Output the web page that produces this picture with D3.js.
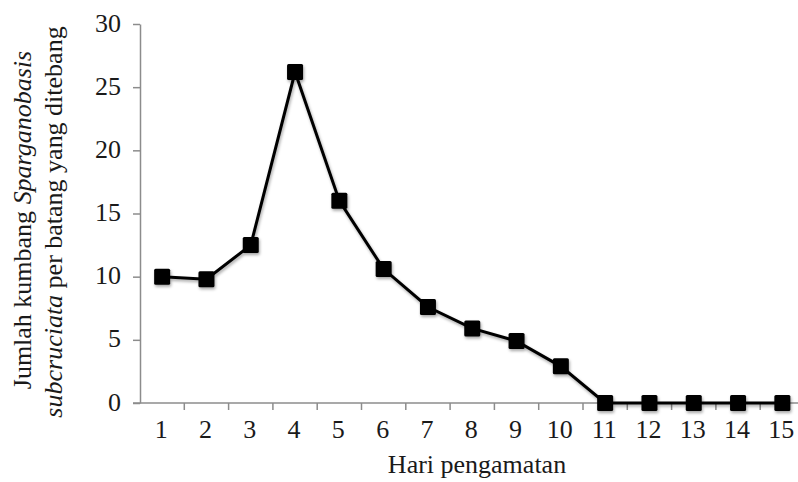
<!DOCTYPE html>
<html>
<head>
<meta charset="utf-8">
<script src="https://cdn.jsdelivr.net/npm/d3@7"></script>
<style>
  body { margin: 0; background: #fff; }
  text { font-family: "Liberation Serif", "Times New Roman", serif; fill: #1a1a1a; }
</style>
</head>
<body>
<div id="chart"></div>
<script>
// data
var days = ["1","2","3","4","5","6","7","8","9","10","11","12","13","14","15"];
var beetles = [10.0, 9.8, 12.5, 26.2, 16.0, 10.6, 7.6, 5.9, 4.9, 2.9, 0, 0, 0, 0, 0];
var yTicks = [0, 5, 10, 15, 20, 25, 30];

var svgWidth = 798, svgHeight = 482;
var plotLeft = 140, plotTop = 24, plotBottom = 403;
var bandW = 44.3;
var fontSize = "25px";
var stretch = 1.04; // the original font runs a bit wider than Liberation Serif

var svg = d3.select("#chart").append("svg")
  .attr("width", svgWidth)
  .attr("height", svgHeight);

var f = svg.append("defs").append("filter").attr("id", "shadow")
  .attr("x", "-20%").attr("y", "-20%").attr("width", "140%").attr("height", "140%");
f.append("feDropShadow")
  .attr("dx", 1).attr("dy", 2)
  .attr("stdDeviation", 1.5)
  .attr("flood-color", "#000")
  .attr("flood-opacity", 0.35);

var x = d3.scaleBand()
  .domain(days)
  .range([plotLeft, plotLeft + bandW * days.length])
  .padding(0);

var y = d3.scaleLinear()
  .domain([0, 30])
  .range([plotBottom, plotTop]);

// y axis
var yAxis = svg.append("g")
  .attr("transform", `translate(${plotLeft},0)`)
  .call(d3.axisLeft(y).tickValues(yTicks).tickSize(7).tickSizeOuter(0));
yAxis.select(".domain").attr("stroke", "#8c8c8c").attr("stroke-width", 1.5);
yAxis.selectAll(".tick line").attr("stroke", "#8c8c8c").attr("stroke-width", 1.5);
yAxis.selectAll(".tick text")
  .attr("x", 0).attr("dy", "0.28em")
  .attr("transform", `translate(-19,0) scale(${stretch},1)`)
  .attr("text-anchor", "end")
  .style("font-size", fontSize)
  .attr("fill", "#1a1a1a");

// x axis: line at y=0, ticks on band edges
var xg = svg.append("g").attr("transform", `translate(0,${plotBottom})`);
xg.append("line")
  .attr("x1", plotLeft - 7).attr("x2", svgWidth)
  .attr("stroke", "#8c8c8c").attr("stroke-width", 1.5);
xg.selectAll("line.edge").data(days.slice(1))
  .enter().append("line")
  .attr("class", "edge")
  .attr("x1", d => x(d)).attr("x2", d => x(d))
  .attr("y1", 0).attr("y2", 7)
  .attr("stroke", "#8c8c8c").attr("stroke-width", 1.5);
xg.selectAll("text").data(days)
  .enter().append("text")
  .attr("transform", d => `translate(${x(d) + bandW / 2 - 1},35) scale(${stretch},1)`)
  .attr("text-anchor", "middle")
  .style("font-size", fontSize)
  .text(d => d);

// line + markers
var line = d3.line()
  .x((d, i) => x(days[i]) + bandW / 2)
  .y(d => y(d));

var marks = svg.append("g").attr("filter", "url(#shadow)");
marks.append("path")
  .datum(beetles)
  .attr("d", line)
  .attr("fill", "none")
  .attr("stroke", "#000")
  .attr("stroke-width", 3);

marks.selectAll("rect").data(beetles)
  .enter().append("rect")
  .attr("x", (d, i) => x(days[i]) + bandW / 2 - 8)
  .attr("y", d => y(d) - 8)
  .attr("width", 16).attr("height", 16)
  .attr("rx", 1.5)
  .attr("fill", "#000");

// axis titles
svg.append("text")
  .attr("transform", `translate(477,473) scale(${stretch},1)`)
  .attr("text-anchor", "middle")
  .style("font-size", fontSize)
  .text("Hari pengamatan");

var t1 = svg.append("text")
  .attr("transform", `translate(31,220) rotate(-90) scale(${stretch},1)`)
  .attr("text-anchor", "middle")
  .style("font-size", fontSize);
t1.append("tspan").text("Jumlah kumbang ");
t1.append("tspan").style("font-style", "italic").text("Sparganobasis");

var t2 = svg.append("text")
  .attr("transform", `translate(62,222) rotate(-90) scale(${stretch},1)`)
  .attr("text-anchor", "middle")
  .style("font-size", fontSize);
t2.append("tspan").style("font-style", "italic").text("subcruciata");
t2.append("tspan").text(" per batang yang ditebang");
</script>
</body>
</html>
